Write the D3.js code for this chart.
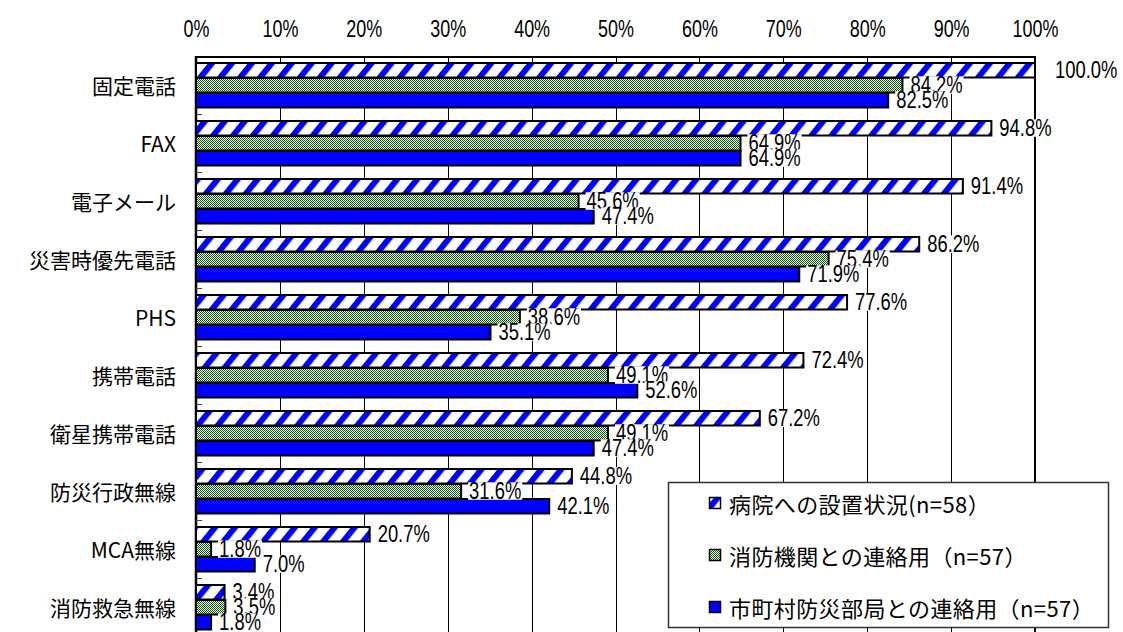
<!DOCTYPE html>
<html lang="ja">
<head>
<meta charset="utf-8">
<script src="https://cdn.jsdelivr.net/npm/d3@7"></script>
<style>
  html, body { margin: 0; padding: 0; background: #fff; }
  svg { display: block; }
  .num { font-family: "Liberation Sans", Arial, sans-serif; }
  .jp { font-family: "Noto Sans CJK JP", "Noto Sans", sans-serif; }
</style>
</head>
<body>
<svg id="chart" width="1123" height="632"></svg>
<script>
// Communication means (rows) and three usage series, values in %
const categories = ["固定電話", "FAX", "電子メール", "災害時優先電話", "PHS", "携帯電話", "衛星携帯電話", "防災行政無線", "MCA無線", "消防救急無線"];
const seriesNames = ["病院への設置状況(n=58）", "消防機関との連絡用（n=57）", "市町村防災部局との連絡用（n=57）"];
const installed   = [100.0, 94.8, 91.4, 86.2, 77.6, 72.4, 67.2, 44.8, 20.7, 3.4];
const fireDept    = [84.2, 64.9, 45.6, 75.4, 38.6, 49.1, 49.1, 31.6, 1.8, 3.5];
const municipal   = [82.5, 64.9, 47.4, 71.9, 35.1, 52.6, 47.4, 42.1, 7.0, 1.8];
const tickValues  = [0, 10, 20, 30, 40, 50, 60, 70, 80, 90, 100];

const seriesValues = [installed, fireDept, municipal];
const fills = ["url(#hatch)", "url(#checker)", "#0000ff"];
const NARROW = 0.8; // horizontal squeeze for a condensed numeric face

const svg = d3.select("#chart");

// Fill patterns
const defs = svg.append("defs");
const hatch = defs.append("pattern")
  .attr("id", "hatch").attr("patternUnits", "userSpaceOnUse")
  .attr("width", 15.5).attr("height", 10)
  .attr("patternTransform", "rotate(39)");
hatch.append("rect").attr("width", 15.5).attr("height", 10).attr("fill", "#fff");
hatch.append("rect").attr("width", 6).attr("height", 10).attr("fill", "#0000ff");

const checker = defs.append("pattern")
  .attr("id", "checker").attr("patternUnits", "userSpaceOnUse")
  .attr("width", 2).attr("height", 2);
checker.append("rect").attr("width", 2).attr("height", 2).attr("fill", "#fff");
checker.append("rect").attr("width", 1).attr("height", 1).attr("fill", "#005c00");
checker.append("rect").attr("x", 1).attr("y", 1).attr("width", 1).attr("height", 1).attr("fill", "#005c00");

// Scales
const x = d3.scaleLinear().domain([0, 100]).range([196, 1035]);
const y = d3.scaleBand().domain(categories).range([56, 636]).paddingInner(0).paddingOuter(0);
const groupPad = (y.bandwidth() - 45) / 2;
const ySub = d3.scaleBand().domain(d3.range(3)).range([groupPad, groupPad + 45]);

// Vertical gridlines
svg.append("g").selectAll("line")
  .data(tickValues.slice(1, -1))
  .join("line")
  .attr("x1", d => Math.round(x(d)) + 0.5).attr("x2", d => Math.round(x(d)) + 0.5)
  .attr("y1", 57).attr("y2", 640)
  .attr("stroke", "#000").attr("stroke-width", 1);

// Top axis labels
const xAxis = svg.append("g")
  .attr("transform", "translate(0,36.5)")
  .call(d3.axisTop(x).tickValues(tickValues).tickSize(0).tickPadding(0).tickFormat(d => d + "%"));
xAxis.select(".domain").remove();
xAxis.attr("font-family", null).attr("font-size", null);
xAxis.selectAll("text")
  .attr("class", "num")
  .attr("font-size", 23)
  .attr("fill", "#000")
  .attr("transform", "scale(0.78,1)");

// Plot frame
svg.append("line").attr("x1", 195).attr("x2", 1036).attr("y1", 57).attr("y2", 57)
  .attr("stroke", "#000").attr("stroke-width", 2);
svg.append("line").attr("x1", 1035).attr("x2", 1035).attr("y1", 56).attr("y2", 640)
  .attr("stroke", "#000").attr("stroke-width", 2);
svg.append("line").attr("x1", 196).attr("x2", 196).attr("y1", 56).attr("y2", 640)
  .attr("stroke", "#000").attr("stroke-width", 2.5);

// Category boundary ticks on the value axis side
svg.append("g").selectAll("line")
  .data(categories.slice(1))
  .join("line")
  .attr("x1", 196).attr("x2", 202)
  .attr("y1", d => Math.round(y(d)) + 0.5).attr("y2", d => Math.round(y(d)) + 0.5)
  .attr("stroke", "#444").attr("stroke-width", 1);

// Category labels
svg.append("g").selectAll("text")
  .data(categories)
  .join("text")
  .attr("class", "jp")
  .attr("x", 176)
  .attr("y", d => y(d) + y.bandwidth() / 2)
  .attr("text-anchor", "end")
  .attr("dominant-baseline", "central")
  .attr("font-size", 21)
  .attr("fill", "#000")
  .text(d => d);

// Bars
const rows = [];
seriesValues.forEach((vals, s) => {
  vals.forEach((v, i) => rows.push({ s, cat: categories[i], v }));
});

svg.append("g").selectAll("rect")
  .data(rows)
  .join("rect")
  .attr("x", x(0))
  .attr("y", d => y(d.cat) + ySub(d.s) + 0.5)
  .attr("width", d => x(d.v) - x(0))
  .attr("height", ySub.bandwidth() - 0.5)
  .attr("fill", d => fills[d.s])
  .attr("stroke", "#000")
  .attr("stroke-width", 2);

// Value labels (opaque white boxes, later labels overlap earlier ones)
const labelG = svg.append("g");
rows.forEach(d => {
  const cy = y(d.cat) + ySub(d.s) + ySub.bandwidth() / 2;
  const lx = x(d.v) + (d.v >= 100 ? 20 : 8);
  const g = labelG.append("g");
  const bg = g.append("rect").attr("fill", "#fff");
  const t = g.append("text")
    .attr("class", "num")
    .attr("transform", `translate(${lx},${cy + 8.3}) scale(${NARROW},1)`)
    .attr("font-size", 23)
    .attr("fill", "#000")
    .text(d.v.toFixed(1) + "%");
  const w = t.node().getComputedTextLength() * NARROW;
  bg.attr("x", lx - 1).attr("y", cy - 8.7).attr("width", w + 2).attr("height", 17.5);
});

// Legend
const lg = svg.append("g");
lg.append("rect")
  .attr("x", 668.5).attr("y", 482.5).attr("width", 440).attr("height", 145)
  .attr("fill", "#fff").attr("stroke", "#333").attr("stroke-width", 1.5);
const legendRowsY = [503, 555, 607];
seriesNames.forEach((name, s) => {
  lg.append("rect")
    .attr("x", 709.5).attr("y", legendRowsY[s] - 5.5).attr("width", 11).attr("height", 11)
    .attr("fill", fills[s]).attr("stroke", "#000").attr("stroke-width", 1.5);
  lg.append("text")
    .attr("class", "jp")
    .attr("x", 729).attr("y", legendRowsY[s])
    .attr("dominant-baseline", "central")
    .attr("font-size", 22)
    .attr("letter-spacing", 0.4)
    .attr("fill", "#000")
    .text(name);
});
</script>
</body>
</html>
